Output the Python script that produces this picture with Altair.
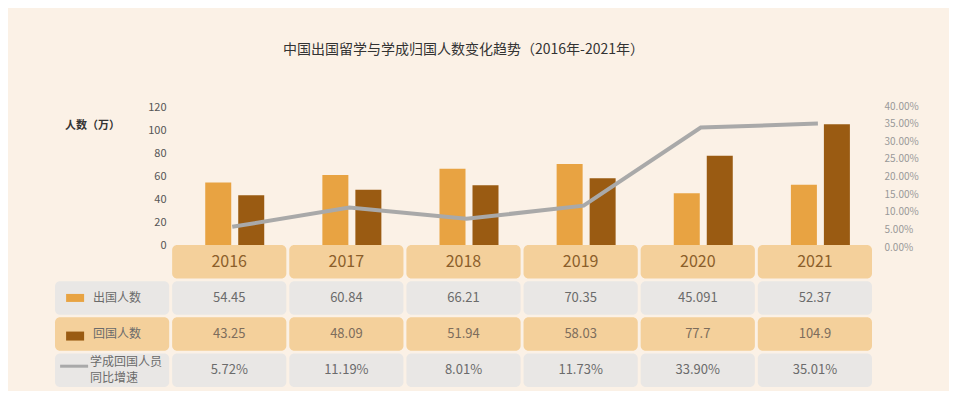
import altair as alt
import pandas as pd

# ---- data ----
years = ["2016", "2017", "2018", "2019", "2020", "2021"]
outbound = [54.45, 60.84, 66.21, 70.35, 45.091, 52.37]
returned = [43.25, 48.09, 51.94, 58.03, 77.7, 104.9]
growth_pct = [5.72, 11.19, 8.01, 11.73, 33.90, 35.01]

row_keys = ["year", "out", "ret", "growth"]
row_labels = ["出国人数", "回国人数", "学成回国人员\n同比增速"]
left_ticks = [0, 20, 40, 60, 80, 100, 120]
right_ticks = [0, 0.05, 0.1, 0.15, 0.2, 0.25, 0.3, 0.35, 0.4]

LABEL_COL = "label"
x_domain = [LABEL_COL] + years
FONT = "Noto Sans CJK SC"

# ---- frames ----
top_df = pd.DataFrame({
    "col": years,
    "out": outbound,
    "ret": returned,
    "growth": [g / 100 for g in growth_pct],
})

cells = []
for y in years:
    cells.append({"col": y, "row": "year", "text": y})
for y, v in zip(years, outbound):
    cells.append({"col": y, "row": "out", "text": str(v)})
for y, v in zip(years, returned):
    cells.append({"col": y, "row": "ret", "text": str(v)})
for y, v in zip(years, growth_pct):
    cells.append({"col": y, "row": "growth", "text": f"{v:.2f}%"})
cells_df = pd.DataFrame(cells)

label_df = pd.DataFrame({"col": [LABEL_COL] * 3, "row": row_keys[1:], "text": row_labels})

# ---- shared encodings ----
x_enc = alt.X("col:N", scale=alt.Scale(domain=x_domain, paddingInner=0.025, paddingOuter=0), axis=None)
bar_scale = alt.Scale(domain=[0, 120], range=[145, 7], nice=False)
table_y = alt.Scale(domain=row_keys, range=[145, 287], paddingInner=0.07, paddingOuter=0)
y_tab = alt.Y("row:N", scale=table_y, axis=None)

left_axis = alt.Axis(
    orient="left", values=left_ticks, offset=-117, ticks=False, domain=False, grid=False,
    labelPadding=6, labelFontSize=11, labelColor="#555555", labelFont=FONT,
    title="人数（万）", titleAngle=0, titleX=-80, titleY=25, titleAlign="center",
    titleBaseline="middle", titleFontSize=11, titleFontWeight="bold", titleColor="#333333",
    titleFont=FONT)

# ---- top: bars + line ----
out_bar = alt.Chart(top_df).mark_bar(width=26, xOffset=-11, color="#e8a342").encode(
    x=x_enc,
    y=alt.Y("out:Q", scale=bar_scale, axis=left_axis),
)
ret_bar = alt.Chart(top_df).mark_bar(width=26, xOffset=22, color="#9a5b12").encode(
    x=x_enc,
    y=alt.Y("ret:Q", scale=bar_scale, axis=left_axis),
)
bars = alt.layer(out_bar, ret_bar)

line = alt.Chart(top_df).mark_line(color="#a9a9a9", strokeWidth=4, xOffset=3).encode(
    x=x_enc,
    y=alt.Y("growth:Q", scale=alt.Scale(domain=[0, 0.4], range=[147, 6], nice=False),
            axis=alt.Axis(orient="right", values=right_ticks, format=".2%", ticks=False,
                          domain=False, grid=False, labelPadding=12, labelFontSize=10,
                          labelColor="#999999", labelFont=FONT, title=None)),
)

# ---- table ----
orange_cells = alt.Chart(cells_df).transform_filter(
    "datum.row == 'year' || datum.row == 'ret'").mark_rect(cornerRadius=5, color="#f4d09b").encode(x=x_enc, y=y_tab)
gray_cells = alt.Chart(cells_df).transform_filter(
    "datum.row == 'out' || datum.row == 'growth'").mark_rect(cornerRadius=5, color="#e9e7e5").encode(x=x_enc, y=y_tab)
label_orange = alt.Chart(label_df).transform_filter("datum.row == 'ret'").mark_rect(
    cornerRadius=5, color="#f4d09b").encode(x=x_enc, y=y_tab)
label_gray = alt.Chart(label_df).transform_filter("datum.row != 'ret'").mark_rect(
    cornerRadius=5, color="#e9e7e5").encode(x=x_enc, y=y_tab)

year_text = alt.Chart(cells_df).transform_filter("datum.row == 'year'").mark_text(
    fontSize=16, color="#8b5e2a", font=FONT).encode(x=x_enc, y=y_tab, text="text:N")
val_text = alt.Chart(cells_df).transform_filter("datum.row == 'out' || datum.row == 'growth'").mark_text(
    fontSize=13, color="#6b6b6b", font=FONT).encode(x=x_enc, y=y_tab, text="text:N")
ret_text = alt.Chart(cells_df).transform_filter("datum.row == 'ret'").mark_text(
    fontSize=13, color="#7d6d5c", font=FONT).encode(x=x_enc, y=y_tab, text="text:N")
label_text = alt.Chart(label_df).transform_filter("datum.row != 'growth'").mark_text(
    fontSize=12, color="#6b6b6b", font=FONT, align="left", dx=-19).encode(
    x=x_enc, y=y_tab, text="text:N")
label_text2 = alt.Chart(label_df).transform_filter("datum.row == 'growth'").mark_text(
    fontSize=12, color="#6b6b6b", font=FONT, align="left", dx=-22, dy=-8,
    lineBreak="\n", lineHeight=16).encode(x=x_enc, y=y_tab, text="text:N")

sw_out = alt.Chart(label_df).transform_filter("datum.row == 'out'").mark_rect(
    width=18, height=8, xOffset=-37, color="#e8a342").encode(x=x_enc, y=y_tab)
sw_ret = alt.Chart(label_df).transform_filter("datum.row == 'ret'").mark_rect(
    width=18, height=9, xOffset=-37, yOffset=2, color="#9a5b12").encode(x=x_enc, y=y_tab)
sw_line = alt.Chart(label_df).transform_filter("datum.row == 'growth'").mark_rect(
    width=28, height=3, xOffset=-38, yOffset=-4, color="#a9a9a9").encode(x=x_enc, y=y_tab)

table = alt.layer(orange_cells, gray_cells, label_orange, label_gray,
                  year_text, val_text, ret_text, label_text, label_text2, sw_out, sw_ret, sw_line)

chart = alt.layer(bars, line, table).resolve_scale(y="independent").properties(
    width=817, height=288,
    autosize=alt.AutoSizeParams(type="none"),
    padding={"left": 47, "top": 92, "right": 77, "bottom": 3},
    background="#fbf1e6",
    title=alt.TitleParams("中国出国留学与学成归国人数变化趋势（2016年-2021年）", anchor="middle",
                          frame="group", offset=29, baseline="bottom", fontSize=14,
                          fontWeight="normal", color="#333333", font=FONT),
).configure_view(stroke=None)

chart.save("out.html", embed_options={"renderer": "svg", "actions": False})
